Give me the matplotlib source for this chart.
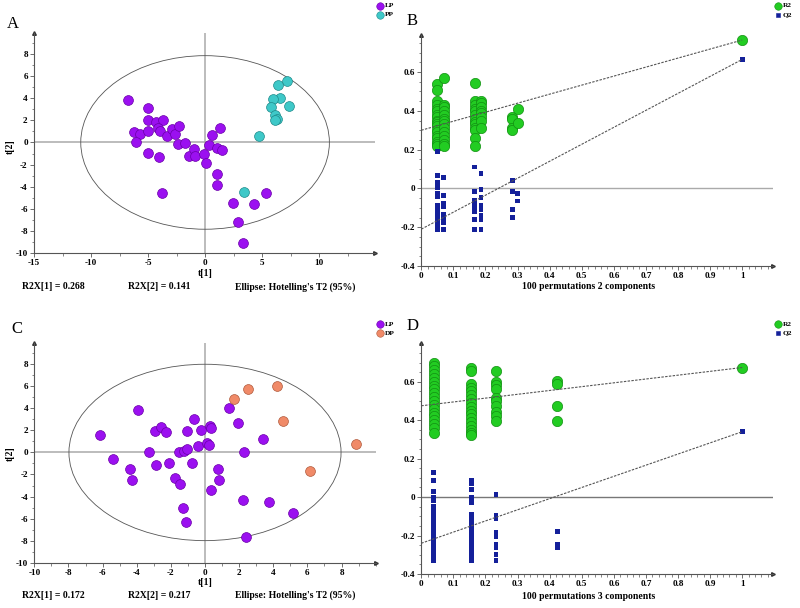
import matplotlib
matplotlib.use("Agg")
import matplotlib.pyplot as plt
from matplotlib.patches import Ellipse
from matplotlib.ticker import MultipleLocator, FixedLocator
import numpy as np

plt.rcParams['font.family'] = ['Liberation Serif', 'DejaVu Serif']

# ---------------- Data ----------------
# Panel A: PCA scores LP vs PP
a_lp_t1 = [-6.73, -4.97, -5.03, -4.33, -3.65, -4.09, -3.95, -6.2, -5.7, -5.0, -6.05, -3.36,
           -2.89, -2.63, -2.28, -2.34, -1.72, -5.03, -4.0, -3.8, -1.37, -0.96, -0.88, -0.06,
           0.09, 0.38, 0.58, 1.32, 1.02, 1.46, 1.02, 1.02, 2.43, 2.87, 3.36, 4.27, 5.38]
a_lp_t2 = [3.83, 3.08, 1.99, 1.84, 2.02, 1.30, 1.06, 0.9, 0.76, 1.0, 0.0, 0.54,
           1.18, 0.76, 1.51, -0.15, -0.03, -0.99, -1.29, -4.58, -1.2, -0.57, -1.26, -1.02,
           -1.86, -0.27, 0.67, 1.3, -0.51, -0.66, -2.86, -3.86, -5.51, -7.17, -9.1, -5.57, -4.58]
a_pp_t1 = [7.22, 6.43, 6.58, 5.99, 7.37, 5.79, 6.17, 6.29, 6.14, 4.74, 3.39]
a_pp_t2 = [5.54, 5.18, 4.0, 3.92, 3.34, 3.19, 2.47, 2.08, 2.05, 0.57, -4.46]
a_ellipse = (10.9, 7.85)   # semi-axes of Hotelling's T2 ellipse
a_footer = ["R2X[1] = 0.268", "R2X[2] = 0.141", "Ellipse: Hotelling's T2 (95%)"]

# Panel C: PCA scores LP vs DP
c_lp_t1 = [-6.18, -5.4, -4.42, -4.27, -3.95, -3.29, -2.94, -2.56, -2.31, -2.88, -2.09, -1.78,
           -1.47, -1.31, -1.14, -1.51, -1.25, -1.04, -1.06, -0.76, -0.63, -0.39, -0.22, 0.12,
           0.23, 0.27, 0.37, 0.33, 0.76, 0.82, 1.41, 1.92, 2.31, 2.23, 2.43, 3.37, 3.76, 5.15]
c_lp_t2 = [1.57, -0.63, -1.54, -2.54, 3.81, 0.06, 1.99, 2.3, 1.9, -1.15, -1.0, -2.3,
           -2.9, -5.02, -6.31, 0.06, 0.15, 0.3, 1.96, -0.97, 2.99, 0.6, 2.08, 0.82,
           0.69, 2.42, 2.24, -3.41, -1.51, -2.51, 3.99, 2.63, 0.03, -4.32, -7.64, 1.21, -4.5, -5.53]
c_dp_t1 = [1.72, 2.49, 4.21, 4.58, 8.85, 6.18]
c_dp_t2 = [4.83, 5.77, 6.01, 2.87, 0.79, -1.69]
c_ellipse = (7.97, 8.0)
c_footer = ["R2X[1] = 0.172", "R2X[2] = 0.217", "Ellipse: Hotelling's T2 (95%)"]

# Panel B: permutation test, 2 components
b_x = [0.05, 0.07, 0.167, 0.186, 0.283, 0.301, 1.0]
b_r2 = [[0.54, 0.51, 0.45, 0.43, 0.41, 0.40, 0.38, 0.37, 0.35, 0.34, 0.33, 0.32, 0.30, 0.29, 0.27, 0.26, 0.24, 0.23, 0.22],
        [0.57, 0.43, 0.42, 0.40, 0.38, 0.36, 0.35, 0.33, 0.31, 0.29, 0.27, 0.25, 0.23, 0.22],
        [0.545, 0.45, 0.43, 0.41, 0.40, 0.38, 0.36, 0.34, 0.33, 0.31, 0.30, 0.26, 0.22],
        [0.45, 0.44, 0.42, 0.40, 0.39, 0.37, 0.35, 0.31],
        [0.37, 0.36, 0.31, 0.30],
        [0.41, 0.335],
        [0.765]]
b_q2 = [[0.19, 0.065, 0.03, 0.005, -0.025, -0.04, -0.09, -0.11, -0.13, -0.15, -0.17, -0.19, -0.21],
        [0.055, -0.035, -0.075, -0.095, -0.135, -0.155, -0.175, -0.21],
        [0.11, -0.015, -0.06, -0.08, -0.1, -0.12, -0.16, -0.21],
        [0.078, -0.005, -0.045, -0.09, -0.11, -0.14, -0.16, -0.21],
        [0.04, -0.015, -0.11, -0.15],
        [-0.025, -0.065],
        [0.665]]
b_r2_line = [0.30, 0.765]
b_q2_line = [-0.21, 0.665]

# Panel D: permutation test, 3 components
d_x = [0.039, 0.156, 0.233, 0.424, 1.0]
d_r2 = [[0.70, 0.68, 0.66, 0.64, 0.62, 0.60, 0.58, 0.56, 0.54, 0.52, 0.50, 0.48, 0.46, 0.44, 0.42, 0.40, 0.38, 0.36, 0.335],
        [0.67, 0.655, 0.59, 0.57, 0.55, 0.53, 0.51, 0.49, 0.47, 0.45, 0.43, 0.41, 0.39, 0.37, 0.35, 0.335, 0.325],
        [0.655, 0.60, 0.585, 0.56, 0.515, 0.50, 0.475, 0.445, 0.42, 0.397],
        [0.605, 0.59, 0.475, 0.395],
        [0.674]]
d_q2 = [[0.13, 0.085, 0.03, 0.0, -0.02, -0.05, -0.07, -0.09, -0.11, -0.13, -0.15, -0.17, -0.19, -0.21, -0.23, -0.25, -0.27, -0.29, -0.31, -0.33],
        [0.085, 0.07, 0.04, 0.0, -0.03, -0.09, -0.11, -0.13, -0.15, -0.17, -0.19, -0.21, -0.23, -0.25, -0.27, -0.29, -0.31, -0.33],
        [0.015, -0.095, -0.11, -0.185, -0.205, -0.245, -0.265, -0.3, -0.33],
        [-0.18, -0.245, -0.265],
        [0.34]]
d_r2_line = [0.475, 0.674]
d_q2_line = [-0.24, 0.34]

# ---------------- Style ----------------
W, H = 800, 608
PURPLE, PURPLE_E = '#9B10F0', '#6A00A8'
TEAL, TEAL_E = '#3EC8C8', '#1E8A8A'
ORANGE, ORANGE_E = '#F08A68', '#B05A3C'
GREEN, GREEN_E = '#22CC22', '#129012'
BLUE = '#14209A'
TICKFS = 6.6
BOLD = 'bold'

fig = plt.figure(figsize=(W / 100, H / 100), dpi=100)


def rect(l, t, r, b):
    return [l / W, 1 - b / H, (r - l) / W, (b - t) / H]


def ftext(x, y, s, **kw):
    fig.text(x / W, 1 - y / H, s, **kw)


def style_axes(ax):
    for s in ['top', 'right']:
        ax.spines[s].set_visible(False)
    for s in ['left', 'bottom']:
        ax.spines[s].set_color('#555555')
        ax.spines[s].set_linewidth(0.8)
    ax.tick_params(which='major', length=3, width=0.6, color='#555555', labelsize=TICKFS, pad=1.5)
    ax.tick_params(which='minor', length=1.8, width=0.5, color='#555555')
    for lab in ax.get_xticklabels() + ax.get_yticklabels():
        lab.set_fontweight(BOLD)
    # arrows at axis ends
    ax.plot(1, 0, marker='>', color='#333333', ms=2.6, transform=ax.transAxes, clip_on=False)
    ax.plot(0, 1, marker='^', color='#333333', ms=2.6, transform=ax.transAxes, clip_on=False)


def score_panel(pos, xlim, xticks, ell, g1, g2):
    ax = fig.add_axes(rect(*pos))
    ax.set_xlim(*xlim)
    ax.set_ylim(-10, 9.9)
    ax.axhline(0, color='#aaaaaa', lw=1.1, zorder=1)
    ax.axvline(0, color='#aaaaaa', lw=1.1, zorder=1)
    ax.add_patch(Ellipse((0, 0), 2 * ell[0], 2 * ell[1], fill=False, ec='#555555', lw=0.6, zorder=2))
    for (xs, ys, fc, ec) in (g1, g2):
        ax.scatter(xs, ys, s=50, c=fc, edgecolors=ec, linewidths=0.5, zorder=3)
    ax.xaxis.set_major_locator(FixedLocator(xticks))
    ax.yaxis.set_major_locator(FixedLocator(list(range(-10, 9, 2))))
    ax.xaxis.set_minor_locator(MultipleLocator((xticks[1] - xticks[0]) / 2))
    ax.yaxis.set_minor_locator(MultipleLocator(1))
    ax.set_xticklabels([str(v) for v in xticks])
    ax.set_yticklabels([str(v) for v in range(-10, 9, 2)])
    style_axes(ax)
    return ax


def perm_panel(pos, ymax, xs, r2, q2, r2line, q2line, zero_col):
    ax = fig.add_axes(rect(*pos))
    ax.set_xlim(0, 1.097)
    ax.set_ylim(-0.4, ymax)
    ax.axhline(0, color=zero_col, lw=1.0, zorder=1)
    ax.plot([0, 1], r2line, ls=(0, (2.2, 1.2)), color='#555555', lw=0.8, zorder=4)
    ax.plot([0, 1], q2line, ls=(0, (2.2, 1.2)), color='#555555', lw=0.8, zorder=4)
    for x, col in zip(xs, r2):
        ax.scatter([x] * len(col), col, s=55, c=GREEN, edgecolors=GREEN_E, linewidths=0.5, zorder=3)
    for x, col in zip(xs, q2):
        ax.scatter([x] * len(col), col, s=12, c=BLUE, marker='s', edgecolors='none', zorder=3)
    xt = [round(0.1 * i, 1) for i in range(11)]
    ax.xaxis.set_major_locator(FixedLocator(xt))
    ax.set_xticklabels(['0'] + [str(v) for v in xt[1:-1]] + ['1'])
    yt = [-0.4, -0.2, 0, 0.2, 0.4, 0.6]
    ax.yaxis.set_major_locator(FixedLocator(yt))
    ax.set_yticklabels(['-0.4', '-0.2', '0', '0.2', '0.4', '0.6'])
    ax.xaxis.set_minor_locator(MultipleLocator(0.02))
    ax.yaxis.set_minor_locator(MultipleLocator(0.05))
    style_axes(ax)
    return ax


score_panel((34, 33, 375, 253), (-15, 14.9), [-15, -10, -5, 0, 5, 10], a_ellipse,
            (a_lp_t1, a_lp_t2, PURPLE, PURPLE_E), (a_pp_t1, a_pp_t2, TEAL, TEAL_E))
score_panel((34.3, 343.3, 375.7, 562.7), (-10, 10), [-10, -8, -6, -4, -2, 0, 2, 4, 6, 8], c_ellipse,
            (c_lp_t1, c_lp_t2, PURPLE, PURPLE_E), (c_dp_t1, c_dp_t2, ORANGE, ORANGE_E))
perm_panel((421.3, 35, 773.3, 266), 0.791, b_x, b_r2, b_q2, b_r2_line, b_q2_line, '#aaaaaa')
perm_panel((421.3, 343.3, 773.3, 574), 0.80, d_x, d_r2, d_q2, d_r2_line, d_q2_line, '#777777')

# ---------------- Texts ----------------
lab_kw = dict(fontsize=7, fontweight=BOLD, ha='center', va='center')
for (y_foot, y_lab, y_t2, footer) in ((286.7, 273, 146.7, a_footer), (595, 582.7, 454, c_footer)):
    ftext(53, y_foot, footer[0], **lab_kw)
    ftext(159, y_foot, footer[1], **lab_kw)
    ftext(295, y_foot, footer[2], **lab_kw)
    ftext(205, y_lab, 't[1]', **lab_kw)
    ftext(10, y_t2, 't[2]', rotation=90, **lab_kw)

ftext(588.3, 286.7, '100 permutations 2 components', **lab_kw)
ftext(588.3, 596.7, '100 permutations 3 components', **lab_kw)

letter_kw = dict(fontsize=12, ha='center', va='center')
ftext(13.3, 23.5, 'A', **letter_kw)
ftext(411.7, 21, 'B', **letter_kw)
ftext(16.7, 329, 'C', **letter_kw)
ftext(413, 326, 'D', **letter_kw)


# legends (figure-level markers)
def legend_entry(x, y, label, fc, ec, marker='o', ms=5.4):
    fig.lines.append(plt.Line2D([x / W], [1 - y / H], marker=marker, ms=ms, mfc=fc, mec=ec,
                                mew=0.4, ls='none', transform=fig.transFigure))
    ftext(x + 4.5, y, label, fontsize=5.3, fontweight=BOLD, ha='left', va='center')


legend_entry(380, 5.7, 'LP', PURPLE, PURPLE_E)
legend_entry(380, 14.8, 'PP', TEAL, TEAL_E)
legend_entry(778.3, 5.7, 'R2', GREEN, GREEN_E)
legend_entry(778.3, 14.5, 'Q2', BLUE, BLUE, marker='s', ms=2.8)
legend_entry(380, 324.3, 'LP', PURPLE, PURPLE_E)
legend_entry(380, 333.3, 'DP', ORANGE, ORANGE_E)
legend_entry(778.3, 324.3, 'R2', GREEN, GREEN_E)
legend_entry(778.3, 333.3, 'Q2', BLUE, BLUE, marker='s', ms=2.8)

fig.savefig('out.png', dpi=100)
